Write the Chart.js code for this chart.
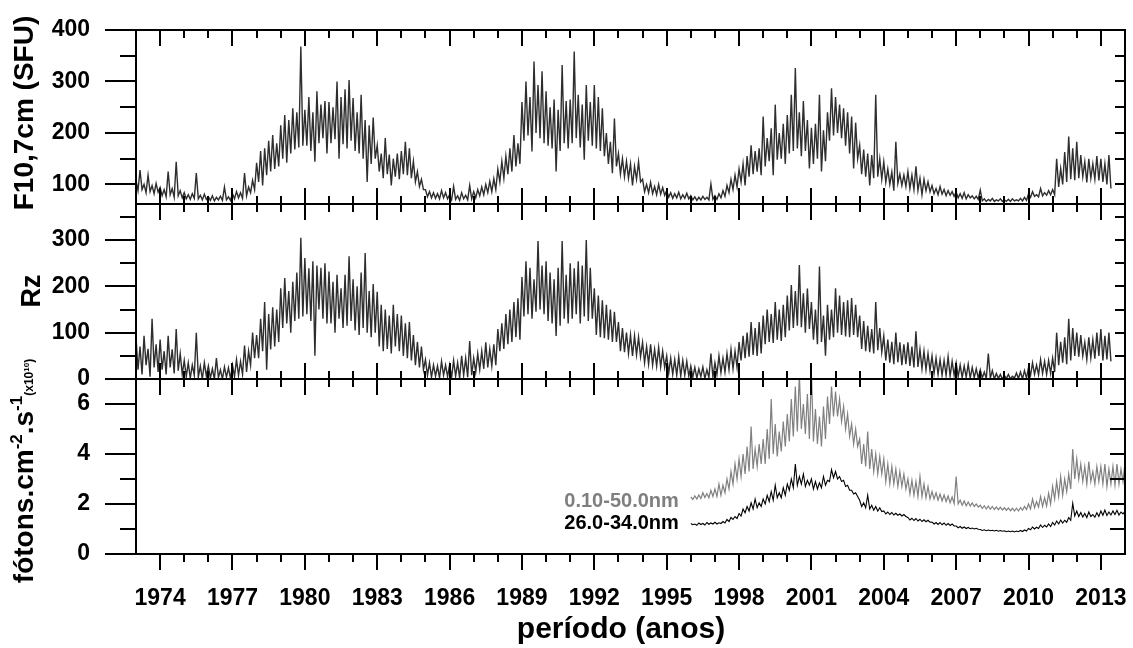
<!DOCTYPE html>
<html>
<head>
<meta charset="utf-8">
<script src="https://cdn.jsdelivr.net/npm/chart.js@4.4.1/dist/chart.umd.min.js"></script>
<style>
  body { margin: 0; background: #fff; }
  #wrap { position: relative; width: 1133px; height: 648px; }
  #wrap canvas { position: absolute; left: 0; top: 0; }
</style>
</head>
<body>
<div id="wrap">
  <canvas id="f107Chart" width="1133" height="648"></canvas>
  <canvas id="rzChart" width="1133" height="648"></canvas>
  <canvas id="euvChart" width="1133" height="648"></canvas>
</div>
<script>
// x range and labelled years
const YEAR_MIN = 1973;
const YEAR_MAX = 2014;
const yearTicks = [1974, 1977, 1980, 1983, 1986, 1989, 1992, 1995, 1998, 2001, 2004, 2007, 2010, 2013];

// F10.7 cm flux (SFU), 12 values a year from 1973.0
const f107Start = 1973;
const f107 = [
  108,88,128,90,100,84,118,86,98,82,102,85,
  94,78,90,76,125,80,92,75,144,78,88,74,
  84,72,80,71,82,73,122,72,79,70,81,71,
  76,69,78,68,75,70,77,69,95,70,76,69,
  82,72,86,74,84,73,122,78,95,84,108,90,
  142,105,165,98,170,118,185,125,196,130,180,135,
  215,150,235,142,225,160,248,168,240,172,368,175,
  245,175,270,165,240,144,281,180,255,190,262,160,
  260,180,250,188,300,150,270,178,285,170,303,185,
  268,165,240,160,274,150,225,105,215,140,230,150,
  176,125,160,112,190,120,158,98,150,115,160,110,
  165,120,183,118,170,112,145,105,125,96,110,90,
  90,76,86,74,84,73,82,72,88,74,84,72,
  80,70,96,71,78,69,84,72,79,70,98,72,
  86,74,90,78,95,80,100,84,106,86,111,90,
  130,105,145,112,155,120,170,125,196,135,180,140,
  260,185,300,195,270,164,339,200,293,190,320,180,
  281,175,250,170,265,125,245,165,332,180,262,170,
  265,180,358,190,274,172,255,148,293,185,260,175,
  293,170,270,165,248,155,200,140,183,122,228,135,
  160,120,150,115,145,112,140,98,135,110,144,105,
  110,86,100,84,104,82,96,80,100,81,94,79,
  88,75,84,73,82,74,85,72,80,73,83,72,
  78,70,76,69,75,70,77,71,75,70,101,71,
  78,71,82,74,88,77,98,84,110,90,118,95,
  130,105,140,98,155,115,176,120,165,125,170,118,
  232,135,190,145,209,118,255,148,200,150,218,140,
  235,160,274,165,326,170,240,155,262,165,225,131,
  210,140,218,150,274,125,205,145,240,185,287,195,
  270,200,255,190,248,175,240,160,232,131,220,150,
  176,120,168,115,160,98,157,112,274,115,150,110,
  144,104,130,100,124,88,183,102,120,98,118,96,
  125,92,118,90,135,88,112,80,110,88,105,86,
  98,82,92,80,96,81,90,78,88,79,86,77,
  85,74,82,73,84,72,80,74,78,72,77,71,
  89,68,72,67,71,68,73,67,70,68,72,67,
  70,67,71,67,72,68,70,68,73,68,75,69,
  82,75,86,77,80,76,92,78,84,79,88,80,
  90,80,150,95,131,100,163,105,193,110,170,108,
  183,112,157,115,144,104,150,112,140,110,155,108,
  150,105,140,100,157,92
];

// sunspot number Rz, 12 values a year from 1973.0
const rzStart = 1973;
const rz = [
  90,20,70,10,93,30,65,5,130,25,75,15,
  85,20,60,10,93,25,64,12,108,18,55,10,
  40,5,35,2,30,8,100,4,28,0,35,6,
  28,2,22,0,45,3,20,0,26,4,24,1,
  30,5,42,8,38,10,72,15,60,30,100,45,
  95,45,130,60,166,20,140,64,155,70,150,80,
  196,110,218,120,190,100,210,125,230,130,305,135,
  261,140,239,125,254,50,245,150,240,130,250,120,
  232,120,210,100,225,130,196,110,225,115,265,125,
  215,105,200,95,230,110,272,100,190,90,205,100,
  188,70,160,60,150,65,137,55,160,70,140,60,
  137,50,120,45,123,40,95,30,80,25,70,20,
  42,8,35,4,30,6,28,2,38,8,30,5,
  30,3,40,6,35,2,50,8,45,4,82,8,
  45,15,55,20,60,22,79,25,65,28,75,30,
  108,60,120,65,140,75,150,80,166,90,174,85,
  220,135,254,140,240,130,215,145,298,150,245,140,
  254,125,230,120,215,93,240,115,298,130,225,120,
  250,130,239,140,254,120,245,135,300,125,240,130,
  196,95,180,90,170,88,160,85,150,80,145,80,
  123,60,110,58,100,55,95,50,93,52,90,48,
  79,35,70,32,75,30,64,28,68,26,60,25,
  50,12,45,10,42,8,48,6,40,8,38,6,
  28,4,25,2,22,5,26,1,20,3,55,4,
  35,10,50,14,45,15,55,20,64,22,60,25,
  80,40,93,45,100,48,123,52,110,50,123,55,
  137,75,150,80,140,78,166,85,150,82,160,90,
  180,105,203,110,190,115,246,112,185,100,195,108,
  166,85,150,75,243,80,137,50,160,85,150,90,
  196,100,180,95,166,92,170,90,175,95,160,90,
  137,65,125,60,115,58,108,55,166,62,110,58,
  93,40,85,35,80,32,100,36,79,30,75,32,
  79,28,70,25,103,26,64,22,60,20,55,18,
  50,12,45,10,42,8,40,8,48,6,38,8,
  35,5,30,3,28,4,32,2,25,3,22,2,
  20,2,15,1,55,2,18,0,12,1,10,0,
  8,1,10,0,6,2,13,1,15,0,18,2,
  25,8,35,10,30,9,42,12,38,10,40,12,
  45,15,100,30,80,35,90,32,130,40,110,50,
  100,48,95,50,79,42,90,46,85,44,100,50,
  108,40,93,42,100,38
];

// EUV photon flux (x10^10 photons cm-2 s-1), 12 values a year from 1996.0
const euvStart = 1996;
const euvWide = [
  2.28,2.18,2.32,2.2,2.36,2.22,2.45,2.26,2.42,2.25,2.55,2.3,
  2.6,2.3,2.8,2.35,2.75,2.45,3.0,2.6,3.3,2.8,3.6,3.0,
  3.8,3.1,4.0,3.2,4.3,3.3,5.1,3.4,4.2,3.5,4.4,3.6,
  4.6,3.6,5.0,3.8,6.2,4.0,5.2,3.9,4.9,4.1,5.3,4.3,
  5.6,4.5,6.2,4.7,6.7,4.9,7.2,5.0,6.0,4.8,6.4,4.6,
  7.3,4.5,5.8,4.4,5.5,4.3,5.9,4.6,6.3,5.2,6.7,5.5,
  6.5,5.5,6.2,5.3,5.9,5.0,5.6,4.7,5.2,4.4,5.0,4.3,
  4.6,3.6,4.4,3.5,4.9,3.4,4.2,3.3,4.0,3.2,3.9,3.2,
  3.8,2.9,3.6,2.8,3.5,2.8,3.4,2.7,3.3,2.7,3.2,2.6,
  3.0,2.4,2.95,2.35,2.9,2.3,3.1,2.3,2.8,2.25,2.7,2.2,
  2.5,2.2,2.45,2.15,2.4,2.12,2.36,2.1,2.32,2.05,2.28,2.02,
  3.1,2.0,2.15,1.95,2.12,1.93,2.08,1.92,2.04,1.9,2.0,1.88,
  1.95,1.82,1.93,1.8,1.92,1.79,1.9,1.78,1.88,1.77,1.87,1.76,
  1.85,1.75,1.84,1.73,1.83,1.72,1.83,1.72,1.86,1.75,1.9,1.78,
  2.0,1.8,2.2,1.85,2.1,1.88,2.3,1.9,2.25,1.92,2.43,2.0,
  2.7,2.2,2.9,2.3,3.1,2.35,3.0,2.5,3.2,2.6,4.2,3.0,
  3.8,3.0,3.6,2.9,3.5,2.8,3.7,2.9,3.3,2.8,3.5,2.9,
  3.5,2.8,3.6,2.7,3.4,2.8,3.5,2.75,3.6,2.8,3.4,2.9,
  3.65
];
const euvNarrow = [
  1.22,1.17,1.2,1.15,1.24,1.18,1.22,1.16,1.26,1.19,1.24,1.2,
  1.27,1.2,1.25,1.22,1.3,1.24,1.38,1.3,1.46,1.38,1.5,1.42,
  1.62,1.52,1.8,1.65,1.9,1.72,2.05,1.8,2.2,1.85,2.05,1.9,
  2.2,2.0,2.35,2.1,2.5,2.15,2.75,2.25,2.45,2.25,2.65,2.35,
  2.8,2.55,3.0,2.65,3.6,2.75,3.1,2.8,3.2,2.7,2.95,2.75,
  3.0,2.6,2.9,2.6,2.85,2.65,3.1,2.75,2.95,2.9,3.37,3.05,
  3.3,3.0,3.1,2.9,2.95,2.7,2.75,2.55,2.55,2.4,2.45,2.3,
  2.15,1.9,2.05,1.85,2.35,1.8,1.95,1.75,1.9,1.72,1.85,1.7,
  1.72,1.6,1.68,1.58,1.66,1.56,1.63,1.55,1.6,1.52,1.58,1.5,
  1.46,1.36,1.43,1.34,1.42,1.32,1.39,1.3,1.37,1.29,1.35,1.27,
  1.28,1.2,1.26,1.18,1.26,1.17,1.24,1.15,1.22,1.14,1.2,1.12,
  1.12,1.05,1.1,1.03,1.08,1.02,1.06,1.01,1.04,1.0,1.03,0.99,
  0.98,0.94,0.97,0.93,0.96,0.93,0.95,0.92,0.95,0.91,0.94,0.91,
  0.93,0.89,0.92,0.89,0.92,0.88,0.92,0.89,0.94,0.9,0.96,0.92,
  1.02,0.97,1.08,1.0,1.07,1.02,1.16,1.06,1.15,1.08,1.2,1.1,
  1.26,1.16,1.32,1.2,1.36,1.24,1.35,1.27,1.46,1.35,2.03,1.52,
  1.72,1.5,1.66,1.48,1.62,1.46,1.68,1.5,1.58,1.47,1.65,1.5,
  1.72,1.55,1.76,1.54,1.68,1.56,1.72,1.58,1.75,1.56,1.68,1.6,
  1.72
];

Chart.defaults.font.family = '"Liberation Sans", Arial, sans-serif';
Chart.defaults.color = '#000';

const FONT = '"Liberation Sans", Arial, sans-serif';

function toPoints(arr, start) {
  return arr.map((v, i) => ({ x: start + i / 12, y: v }));
}

// rotated axis title, parts drawn one after another (superscripts via rise)
function drawVTitle(ctx, t) {
  ctx.save();
  ctx.translate(t.x, t.y);
  ctx.rotate(-Math.PI / 2);
  ctx.fillStyle = '#000';
  ctx.textAlign = 'left';
  ctx.textBaseline = 'alphabetic';
  let total = 0;
  t.parts.forEach(p => {
    ctx.font = 'bold ' + p.size + 'px ' + FONT;
    p.w = ctx.measureText(p.text).width;
    total += p.w;
  });
  let cx = -total / 2;
  t.parts.forEach(p => {
    ctx.font = 'bold ' + p.size + 'px ' + FONT;
    ctx.fillText(p.text, cx, -(p.rise || 0));
    cx += p.w;
  });
  ctx.restore();
}

// panel box, tick marks both sides, titles
const frame = {
  id: 'frame',
  afterDraw(chart, args, o) {
    const ctx = chart.ctx;
    const a = chart.chartArea;
    const xs = chart.scales.x;
    const ys = chart.scales.y;
    ctx.save();
    ctx.strokeStyle = '#000';
    ctx.lineWidth = 2;
    ctx.strokeRect(a.left, a.top, a.right - a.left, a.bottom - a.top);
    ctx.beginPath();
    for (let yr = YEAR_MIN + 1; yr < YEAR_MAX; yr++) {
      const px = Math.round(xs.getPixelForValue(yr));
      const len = (yr - 1974) % 3 === 0 ? 16 : 8;
      ctx.moveTo(px, a.top);
      ctx.lineTo(px, a.top + len);
      ctx.moveTo(px, a.bottom);
      ctx.lineTo(px, o.outBottom ? a.bottom + len : a.bottom - len);
    }
    o.major.forEach(v => {
      const py = Math.round(ys.getPixelForValue(v));
      ctx.moveTo(a.left - 31, py);
      ctx.lineTo(a.left, py);
      ctx.moveTo(a.right, py);
      ctx.lineTo(a.right - o.rightLen, py);
    });
    o.minor.forEach(v => {
      const py = Math.round(ys.getPixelForValue(v));
      ctx.moveTo(a.left - 16, py);
      ctx.lineTo(a.left, py);
      ctx.moveTo(a.right, py);
      ctx.lineTo(a.right - o.rightLen, py);
    });
    ctx.stroke();

    drawVTitle(ctx, o.title);

    if (o.xTitle) {
      ctx.font = 'bold ' + o.xTitle.size + 'px ' + FONT;
      ctx.fillStyle = '#000';
      ctx.textAlign = 'center';
      ctx.textBaseline = 'alphabetic';
      ctx.fillText(o.xTitle.text, o.xTitle.x, o.xTitle.y);
    }
    (o.seriesLabels || []).forEach(l => {
      ctx.font = 'bold 20px ' + FONT;
      ctx.fillStyle = l.color;
      ctx.textAlign = 'right';
      ctx.textBaseline = 'alphabetic';
      ctx.fillText(l.text, xs.getPixelForValue(l.year) - 12, ys.getPixelForValue(l.value));
    });
    ctx.restore();
  }
};

function makeChart(id, cfg) {
  return new Chart(document.getElementById(id), {
    type: 'line',
    data: { datasets: cfg.datasets },
    options: {
      responsive: false,
      animation: false,
      devicePixelRatio: 1,
      events: [],
      layout: { padding: cfg.padding },
      elements: { point: { radius: 0 }, line: { borderWidth: 1, tension: 0 } },
      plugins: {
        legend: { display: false },
        tooltip: { enabled: false },
        frame: cfg.frame
      },
      scales: {
        x: {
          type: 'linear',
          min: YEAR_MIN,
          max: YEAR_MAX,
          display: cfg.showX,
          grid: { display: false, drawTicks: true, tickLength: 31 },
          border: { display: false },
          afterBuildTicks: s => { s.ticks = yearTicks.map(v => ({ value: v })); },
          afterFit: s => { if (cfg.showX) s.height = 90; },
          ticks: {
            autoSkip: false,
            maxRotation: 0,
            padding: 0,
            font: { size: 23, weight: 'bold' },
            callback: v => String(v)
          }
        },
        y: {
          type: 'linear',
          min: cfg.min,
          max: cfg.max,
          grid: { display: false, drawTicks: true, tickLength: 46 },
          border: { display: false },
          afterBuildTicks: s => { s.ticks = cfg.frame.major.map(v => ({ value: v })); },
          afterFit: s => { s.width = 136; },
          ticks: {
            padding: 0,
            font: { size: 23, weight: 'bold' },
            callback: v => String(v)
          }
        }
      }
    },
    plugins: [frame]
  });
}

makeChart('f107Chart', {
  min: 62, max: 400, showX: false,
  padding: { left: 0, right: 8, top: 30, bottom: 444 },
  datasets: [{ data: toPoints(f107, f107Start), borderColor: '#2e2e2e', borderWidth: 1.4 }],
  frame: {
    major: [100, 200, 300, 400], minor: [150, 250, 350], rightLen: 10,
    title: { x: 33, y: 113, parts: [{ text: 'F10,7cm (SFU)', size: 28 }] }
  }
});

makeChart('rzChart', {
  min: 0, max: 377.7, showX: false,
  padding: { left: 0, right: 8, top: 204, bottom: 269 },
  datasets: [{ data: toPoints(rz, rzStart), borderColor: '#2e2e2e', borderWidth: 1.4 }],
  frame: {
    major: [0, 100, 200, 300], minor: [50, 150, 250, 350], rightLen: 10,
    title: { x: 40, y: 291, parts: [{ text: 'Rz', size: 27 }] }
  }
});

makeChart('euvChart', {
  min: 0, max: 7, showX: true,
  padding: { left: 0, right: 8, top: 379, bottom: 4 },
  datasets: [
    { data: toPoints(euvWide, euvStart), borderColor: '#808080', borderWidth: 1.2 },
    { data: toPoints(euvNarrow, euvStart), borderColor: '#000', borderWidth: 1.1 }
  ],
  frame: {
    major: [0, 2, 4, 6], minor: [1, 3, 5], rightLen: 15, outBottom: true,
    title: {
      x: 33, y: 471,
      parts: [
        { text: 'fótons.cm', size: 28 },
        { text: '-2', size: 17, rise: 11 },
        { text: '.s', size: 28 },
        { text: '-1', size: 17, rise: 11 },
        { text: '(x10', size: 12 },
        { text: '10', size: 8, rise: 4 },
        { text: ')', size: 12 }
      ]
    },
    xTitle: { text: 'período (anos)', size: 30, x: 621, y: 638 },
    seriesLabels: [
      { text: '0.10-50.0nm', color: '#7f7f7f', year: euvStart, value: 1.88 },
      { text: '26.0-34.0nm', color: '#000', year: euvStart, value: 1.0 }
    ]
  }
});
</script>
</body>
</html>
